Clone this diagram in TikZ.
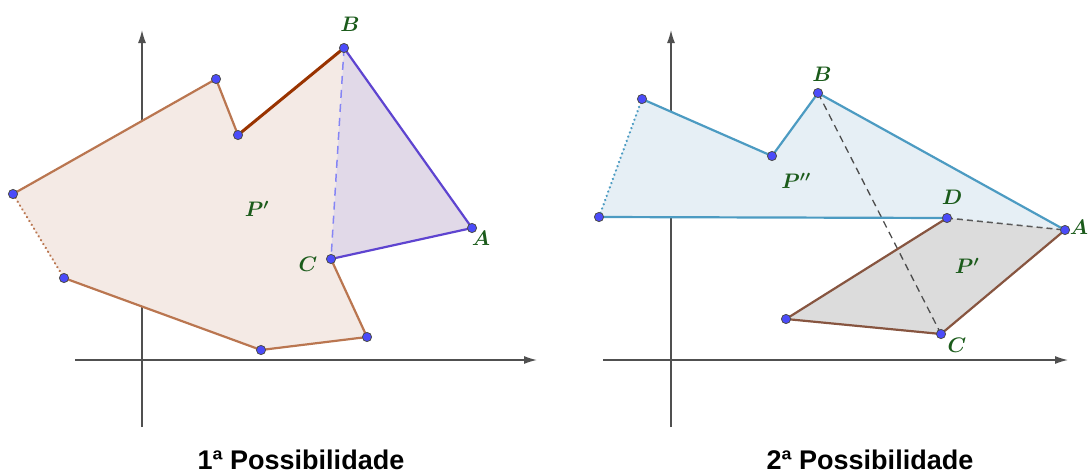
\documentclass[tikz,border=0pt]{standalone}
\usepackage{fix-cm}
\usepackage{fontspec}
\usetikzlibrary{arrows.meta}
\newfontfamily\capfont{Liberation Sans}
\definecolor{GeoBrown}{HTML}{BA7650}
\definecolor{GeoBrownDark}{HTML}{993300}
\definecolor{GeoBrownFill}{HTML}{F4EAE5}
\definecolor{GeoViolet}{HTML}{5E44D0}
\definecolor{GeoVioletFill}{HTML}{E1D9E8}
\definecolor{GeoDash}{HTML}{8585F5}
\definecolor{GeoBlue}{HTML}{4C9BC2}
\definecolor{GeoBlueFill}{HTML}{E6EFF5}
\definecolor{GeoGrayFill}{HTML}{DCDCDC}
\definecolor{GeoQuad}{HTML}{875540}
\definecolor{GeoAxis}{HTML}{505050}
\definecolor{GeoPoint}{HTML}{4B4BFA}
\definecolor{GeoLabel}{HTML}{1B5B1B}

\begin{document}
\begin{tikzpicture}[x=1pt,y=-1pt]
    \tikzset{ax/.style={draw=GeoAxis,line width=1.3pt,-{Latex[length=13pt,width=8pt]}},
      edge/.style={line width=2.2pt,line cap=round},
      pt/.style={fill=GeoPoint,draw=black!70,line width=0.8pt},
      lbl/.style={text=GeoLabel,font=\fontsize{21}{24}\selectfont\boldmath,inner sep=0pt},
      caption/.style={font=\capfont\bfseries\fontsize{27}{30}\selectfont,anchor=base,
        inner sep=0pt,text depth=0pt}}
    \useasboundingbox (0,0) rectangle (1089,474);
    % 1a possibilidade
    \draw[ax] (75,360) -- (537,360);
    \draw[ax] (142,427) -- (142,30);
    \coordinate (p1) at (13,194);  \coordinate (p2) at (216,79);
    \coordinate (p3) at (238,135); \coordinate (pB) at (344,48);
    \coordinate (pA) at (472,228); \coordinate (pC) at (331,259);
    \coordinate (p7) at (367,337); \coordinate (p8) at (261,350);
    \coordinate (p9) at (64,278);
    \fill[GeoBrownFill] (p1) -- (p2) -- (p3) -- (pB) -- (pC) -- (p7) -- (p8) -- (p9) -- cycle;
    \fill[GeoVioletFill] (pB) -- (pA) -- (pC) -- cycle;
    \draw[GeoDash,line width=1.5pt,dash pattern=on 8pt off 6pt] (pB) -- (pC);
    \draw[edge,GeoBrown] (p9) -- (p8) -- (p7) -- (pC);
    \draw[edge,GeoBrown] (p1) -- (p2) -- (p3);
    \draw[edge,GeoBrownDark,line width=3pt] (p3) -- (pB);
    \draw[edge,GeoBrown,line width=2.5pt,dash pattern=on 0.1pt off 4.4pt] (p1) -- (p9);
    \draw[edge,GeoViolet] (pC) -- (pA) -- (pB);
    \foreach \p in {p1,p2,p3,pB,pA,pC,p7,p8,p9} \filldraw[pt] (\p) circle (4.6);
    \node[lbl] (lB) at (350,24) {$B$};
    \node[lbl] (lA) at (481,238) {$A$};
    \node[lbl] (lC) at (308,264) {$C$};
    \node[lbl] (lP) at (257,209) {$P'$};
    \node[caption] (t1) at (301,469.5) {1ª Possibilidade};
    % 2a possibilidade
    \draw[ax] (603,360) -- (1068,360);
    \draw[ax] (671,427) -- (671,30);
    \coordinate (q1) at (642,99);  \coordinate (q2) at (772,156);
    \coordinate (qB) at (818,93);  \coordinate (qA) at (1065,230);
    \coordinate (qD) at (947,218); \coordinate (q6) at (599,217);
    \coordinate (qC) at (941,334); \coordinate (qE) at (786,319);
    \fill[GeoBlueFill] (q6) -- (q1) -- (q2) -- (qB) -- (qA) -- (qD) -- cycle;
    \fill[GeoGrayFill] (qD) -- (qA) -- (qC) -- (qE) -- cycle;
    \draw[black!70,line width=1.3pt,dash pattern=on 7pt off 5pt] (qB) -- (qC);
    \draw[black!65,line width=1.5pt,dash pattern=on 6pt off 4pt] (qD) -- (qA);
    \draw[edge,GeoBlue] (q1) -- (q2) -- (qB) -- (qA);
    \draw[edge,GeoBlue] (qD) -- (q6);
    \draw[edge,GeoBlue,line width=2.5pt,dash pattern=on 0.1pt off 4.4pt] (q6) -- (q1);
    \draw[edge,GeoQuad] (qD) -- (qE) -- (qC) -- (qA);
    \foreach \p in {q1,q2,qB,qA,qD,q6,qC,qE} \filldraw[pt] (\p) circle (4.6);
    \node[lbl] (mB) at (822,74) {$B$};
    \node[lbl] (mD) at (952,197) {$D$};
    \node[lbl] (mA) at (1079,227) {$A$};
    \node[lbl] (mC) at (957,345) {$C$};
    \node[lbl] (mP) at (796,181) {$P''$};
    \node[lbl] (mQ) at (967,266) {$P'$};
    \node[caption] (t2) at (870,469.5) {2ª Possibilidade};
  \end{tikzpicture}
\end{document}
